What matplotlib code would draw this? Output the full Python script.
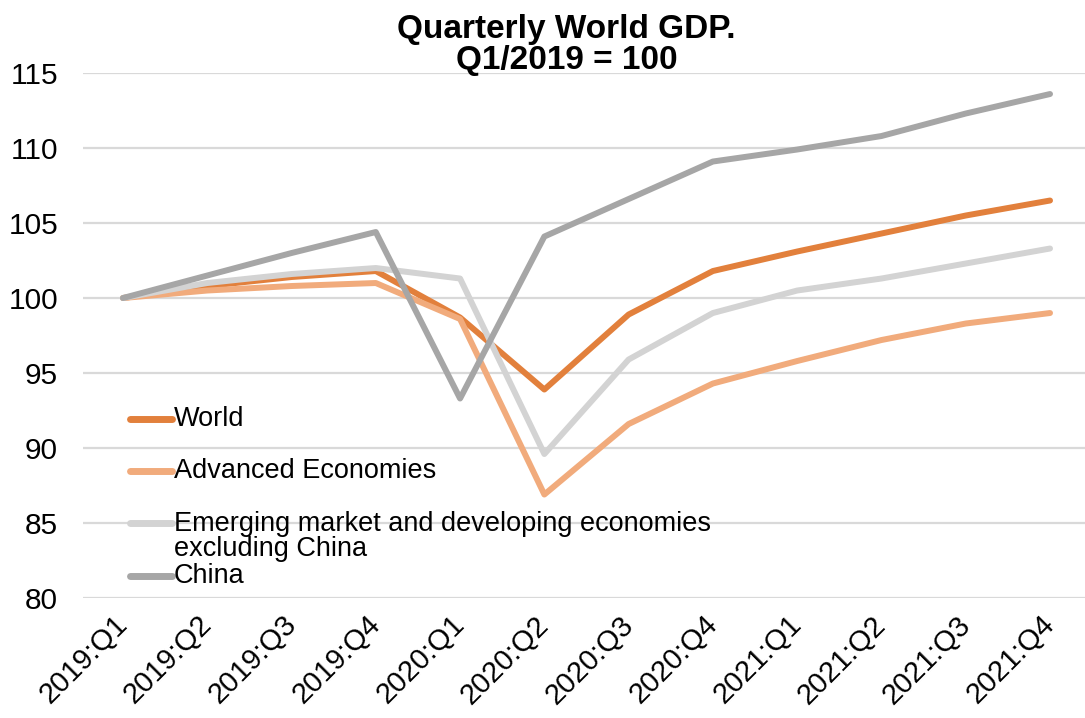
import matplotlib
matplotlib.use("Agg")
import matplotlib.pyplot as plt
from matplotlib.transforms import ScaledTranslation

plt.rcParams['font.family'] = ['Liberation Sans', 'DejaVu Sans']

quarters = ["2019:Q1", "2019:Q2", "2019:Q3", "2019:Q4",
            "2020:Q1", "2020:Q2", "2020:Q3", "2020:Q4",
            "2021:Q1", "2021:Q2", "2021:Q3", "2021:Q4"]

world = [100.0, 100.8, 101.4, 101.8, 98.7, 93.9, 98.9, 101.8, 103.1, 104.3, 105.5, 106.5]
advanced = [100.0, 100.5, 100.8, 101.0, 98.6, 86.9, 91.6, 94.3, 95.8, 97.2, 98.3, 99.0]
emde_ex_china = [100.0, 101.0, 101.6, 102.0, 101.3, 89.6, 95.9, 99.0, 100.5, 101.3, 102.3, 103.3]
china = [100.0, 101.5, 103.0, 104.4, 93.3, 104.1, 106.6, 109.1, 109.9, 110.8, 112.3, 113.6]

series = [
    ("World", world, "#e2803c"),
    ("Advanced Economies", advanced, "#f1ab7c"),
    ("Emerging market and developing economies\nexcluding China", emde_ex_china, "#d3d3d3"),
    ("China", china, "#a6a6a6"),
]

fig = plt.figure(figsize=(10.85, 7.18), dpi=100)
ax = fig.add_axes([0.0765, 0.1671, 0.9235, 0.7312])

x = list(range(len(quarters)))
for name, vals, col in series:
    ax.plot(x, vals, color=col, lw=4.3, solid_capstyle='round',
            solid_joinstyle='round', zorder=3)

ax.set_xlim(-0.474, 11.415)
ax.set_ylim(80, 115)
ax.set_yticks([80, 85, 90, 95, 100, 105, 110, 115])
ax.tick_params(axis='y', labelsize=21.5, length=0, pad=18)
ax.set_xticks(x)
ax.set_xticklabels(quarters, rotation=45, ha='right', rotation_mode='anchor',
                   fontsize=21)
ax.tick_params(axis='x', length=0, pad=9)
# nudge the slanted quarter labels a little to the left
shift = ScaledTranslation(-7 / 72, 0, fig.dpi_scale_trans)
for lab in ax.get_xticklabels():
    lab.set_transform(lab.get_transform() + shift)
ax.grid(axis='y', color='#d9d9d9', lw=1.6, zorder=0)
for s in ax.spines.values():
    s.set_visible(False)

# legend drawn by hand so the two-line entry sits like the original
key_rows = [0.341, 0.242, 0.143, 0.042]
text_rows = [0.341, 0.242, 0.117, 0.042]
for (name, vals, col), ky, ty in zip(series, key_rows, text_rows):
    ax.plot([0.0469, 0.0888], [ky, ky], color=col, lw=5, solid_capstyle='round',
            transform=ax.transAxes, clip_on=False, zorder=4)
    ax.text(0.0905, ty, name, transform=ax.transAxes, fontsize=19.5,
            va='center', ha='left', linespacing=0.95, zorder=4)

fig.text(0.522, 0.938, "Quarterly World GDP.\nQ1/2019 = 100", ha='center',
         va='center', fontsize=24, fontweight='bold', linespacing=1.0)

fig.savefig("out.png", dpi=100)
